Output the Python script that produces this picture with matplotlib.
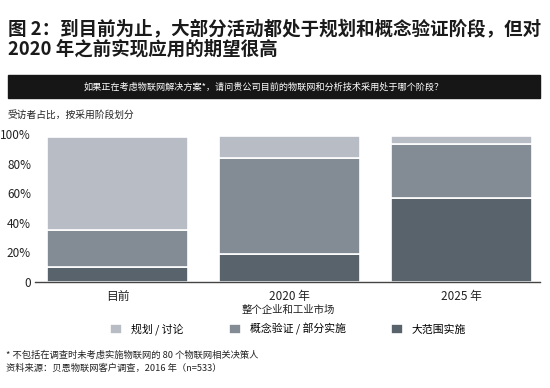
import matplotlib.pyplot as plt
from matplotlib.patches import Rectangle

plt.rcParams['font.family'] = ['Noto Sans CJK SC', 'DejaVu Sans']

categories = ['目前', '2020 年', '2025 年']
large_scale = [10, 19, 57]
poc_partial = [25, 65, 36]
planning = [63, 15, 6]
series_labels = ['规划 / 讨论', '概念验证 / 部分实施', '大范围实施']
yticks = [0, 20, 40, 60, 80, 100]
ytick_labels = ['0', '20%', '40%', '60%', '80%', '100%']

c_light = '#b8bdc5'
c_mid = '#838c94'
c_dark = '#59636b'

fig = plt.figure(figsize=(5.5, 3.88), dpi=100)
ax = fig.add_axes([0.064, 0.273, 0.918, 0.3814])

x = range(len(categories))
w = 0.82
b1 = ax.bar(x, large_scale, w, color=c_dark, edgecolor='white', linewidth=1.2)
b2 = ax.bar(x, poc_partial, w, bottom=large_scale, color=c_mid,
            edgecolor='white', linewidth=1.2)
bottom3 = [a + b for a, b in zip(large_scale, poc_partial)]
b3 = ax.bar(x, planning, w, bottom=bottom3, color=c_light,
            edgecolor='white', linewidth=1.2)

ax.set_xlim(-0.48, 2.456)
ax.set_ylim(0, 100)
ax.set_yticks(yticks)
ax.set_yticklabels(ytick_labels, fontsize=8.5, color='#222222')
ax.set_xticks(list(x))
ax.set_xticklabels(categories, fontsize=8.5, color='#222222')
ax.tick_params(axis='y', length=0, pad=3)
ax.tick_params(axis='x', length=0, pad=6)
for s in ['top', 'right', 'left']:
    ax.spines[s].set_visible(False)
ax.spines['bottom'].set_color('#444444')
ax.spines['bottom'].set_linewidth(1.0)

fig.text(0.5 + 0.024, 1 - 310 / 388, '整个企业和工业市场', ha='center', va='center',
         fontsize=7.5, color='#222222')

# title
fig.text(0.015, 1 - 29 / 388, '图 2：到目前为止，大部分活动都处于规划和概念验证阶段，但对',
         fontsize=13.3, fontweight='bold', va='center', color='#1a1a1a')
fig.text(0.015, 1 - 49 / 388, '2020 年之前实现应用的期望很高',
         fontsize=13.3, fontweight='bold', va='center', color='#1a1a1a')

# black question band
fig.add_artist(Rectangle((8 / 550, 1 - 98 / 388), 532 / 550, 23 / 388,
                         transform=fig.transFigure, color='#161616'))
fig.text(264 / 550, 1 - 87 / 388,
         '如果正在考虑物联网解决方案*，请问贵公司目前的物联网和分析技术采用处于哪个阶段？',
         ha='center', va='center', fontsize=6.6, color='white')

fig.text(8 / 550, 1 - 115 / 388, '受访者占比，按采用阶段划分', va='center',
         fontsize=7, color='#222222')

fig.legend([b3, b2, b1], series_labels, ncol=3, loc='center',
           bbox_to_anchor=(0.5 + 0.024, 1 - 329 / 388), frameon=False,
           fontsize=7.8, handlelength=1.1, handleheight=1.1,
           columnspacing=4.2, handletextpad=0.8)

fig.text(6 / 550, 1 - 355 / 388, '* 不包括在调查时未考虑实施物联网的 80 个物联网相关决策人',
         va='center', fontsize=6.7, color='#222222')
fig.text(6 / 550, 1 - 368 / 388, '资料来源：贝恩物联网客户调查，2016 年（n=533）',
         va='center', fontsize=6.7, color='#222222')

fig.savefig('out.png', dpi=100)
